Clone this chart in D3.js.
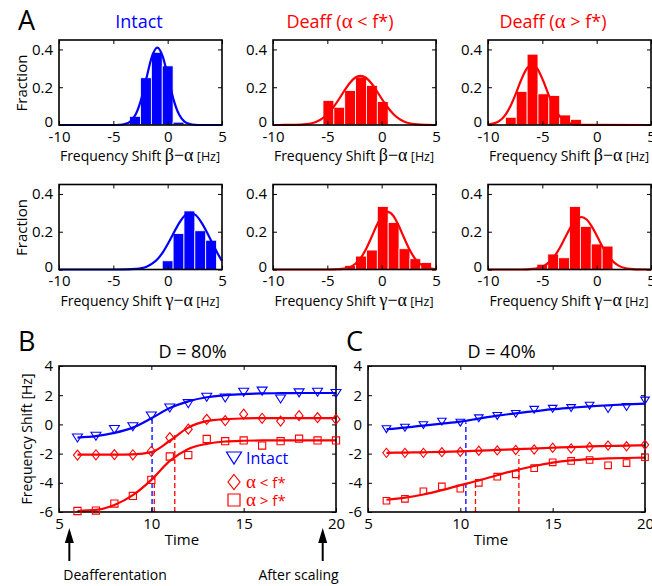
<!DOCTYPE html>
<html>
<head>
<meta charset="utf-8">
<script src="https://cdn.jsdelivr.net/npm/d3@7"></script>
<style>
  body { margin: 0; background: #fff; }
  text { font-family: "Open Sans", sans-serif; }
</style>
</head>
<body>
<div id="chart"></div>
<script>
// ---------- histogram data (panel A) ----------
const histTicksX = [-10, -5, 0, 5];
const histTicksY = [0, 0.2, 0.4];

// row 1: beta - alpha
const intactBetaBins = [-3, -2, -1, 0, 1];
const intactBetaFrac = [0.046, 0.25, 0.385, 0.313, 0.015];
const intactBetaFitX = [-10, -4.95, -4.45, -3.95, -3.45, -2.95, -2.45, -1.95, -1.45, -0.95, -0.45, 0.05, 0.55, 1.05, 1.55, 2.05, 2.55, 3.05, 5];
const intactBetaFitY = [0, 0, 0.001, 0.005, 0.018, 0.055, 0.133, 0.249, 0.362, 0.41, 0.362, 0.249, 0.133, 0.055, 0.018, 0.005, 0.001, 0, 0];

const lowBetaBins = [-4.9, -3.9, -2.9, -1.9, -0.9, 0.1];
const lowBetaFrac = [0.13, 0.094, 0.183, 0.254, 0.21, 0.124];
const lowBetaFitX = [-10, -8.95, -7.95, -6.95, -6.45, -5.95, -5.45, -4.95, -4.45, -3.95, -3.45, -2.95, -2.45, -1.95, -1.45, -0.95, -0.45, 0.05, 0.55, 1.05, 1.55, 2.05, 2.55, 3.05, 4.05, 5];
const lowBetaFitY = [0, 0.0002, 0.0007, 0.0044, 0.0095, 0.019, 0.035, 0.06, 0.094, 0.135, 0.18, 0.221, 0.25, 0.26, 0.25, 0.221, 0.18, 0.135, 0.094, 0.06, 0.035, 0.019, 0.0095, 0.0044, 0.0007, 0.0001];

const highBetaBins = [-7.9, -6.9, -5.9, -4.9, -3.9, -2.9, -1.9];
const highBetaFrac = [0.041, 0.178, 0.375, 0.165, 0.156, 0.053, 0.03];
const highBetaFitX = [-10, -9.45, -8.95, -8.45, -7.95, -7.45, -6.95, -6.45, -5.95, -5.45, -4.95, -4.45, -3.95, -3.45, -2.95, -2.45, -1.95, -0.95, 5];
const highBetaFitY = [0.0027, 0.0085, 0.022, 0.05, 0.098, 0.164, 0.238, 0.297, 0.32, 0.297, 0.238, 0.164, 0.098, 0.05, 0.022, 0.0085, 0.0028, 0.0002, 0];

// row 2: gamma - alpha
const intactGammaBins = [0, 1, 2, 3, 4];
const intactGammaFrac = [0.046, 0.19, 0.31, 0.205, 0.155];
const intactGammaFitX = [-10, -4.9, -3.9, -2.9, -2.4, -1.9, -1.4, -0.9, -0.4, 0.1, 0.6, 1.1, 1.6, 2.1, 2.6, 3.1, 3.6, 4.1, 4.6, 5];
const intactGammaFitY = [0, 0.0001, 0.0004, 0.003, 0.007, 0.016, 0.032, 0.057, 0.095, 0.144, 0.199, 0.25, 0.287, 0.3, 0.287, 0.25, 0.199, 0.14, 0.085, 0.045];

const lowGammaBins = [-2.9, -1.9, -0.9, 0.1, 1.1, 2.1, 3.1, 4.1];
const lowGammaFrac = [0.021, 0.071, 0.103, 0.334, 0.249, 0.11, 0.057, 0.037];
const lowGammaFitX = [-10, -4.95, -3.95, -3.45, -2.95, -2.45, -1.95, -1.45, -0.95, -0.45, 0.05, 0.55, 1.05, 1.55, 2.05, 2.55, 3.05, 3.55, 4.05, 4.55, 5];
const lowGammaFitY = [0, 0.0001, 0.0015, 0.0046, 0.012, 0.029, 0.059, 0.107, 0.169, 0.234, 0.286, 0.305, 0.286, 0.234, 0.169, 0.107, 0.059, 0.029, 0.012, 0.0046, 0.0017];

const highGammaBins = [-5, -4, -3, -2, -1, 0, 1];
const highGammaFrac = [0.028, 0.082, 0.062, 0.334, 0.228, 0.135, 0.124];
const highGammaFitX = [-10, -7.4, -6.4, -5.9, -5.4, -4.9, -4.4, -3.9, -3.4, -2.9, -2.4, -1.9, -1.4, -0.9, -0.4, 0.1, 0.6, 1.1, 1.6, 2.1, 2.6, 3.1, 3.6, 4.6, 5];
const highGammaFitY = [0, 0.0001, 0.0011, 0.0031, 0.0079, 0.018, 0.038, 0.069, 0.114, 0.169, 0.223, 0.263, 0.278, 0.263, 0.223, 0.169, 0.114, 0.069, 0.038, 0.018, 0.0079, 0.0031, 0.0011, 0.0001, 0];

// ---------- time course data (panels B, C) ----------
const timeSteps = [6, 7, 8, 9, 10, 11, 12, 13, 14, 15, 16, 17, 18, 19, 20];
const timeTicksX = [5, 10, 15, 20];
const timeTicksY = [-6, -4, -2, 0, 2, 4];

// B: D = 80%
const intactB = [-0.93, -0.81, -0.35, -0.16, 0.58, 1.12, 1.42, 1.86, 1.81, 2.2, 2.28, 1.74, 2.16, 2.2, 2.12];
const lowB = [-2.1, -2.08, -2.07, -2.08, -1.84, -0.9, -0.33, 0.35, 0.26, 0.7, 0.42, 0.23, 0.6, 0.47, 0.35];
const highB = [-5.93, -5.9, -5.42, -4.9, -3.8, -2.2, -2.1, -1.0, -1.15, -1.1, -1.45, -1.15, -0.98, -1.1, -1.1];
const intactBFit = [-0.9, -0.8, -0.58, -0.22, 0.42, 1.12, 1.58, 1.86, 2.0, 2.08, 2.12, 2.14, 2.15, 2.15, 2.15];
const lowBFit = [-2.07, -2.07, -2.07, -2.05, -1.9, -1.12, -0.22, 0.22, 0.36, 0.41, 0.43, 0.43, 0.43, 0.43, 0.43];
const highBFit = [-5.93, -5.86, -5.52, -4.85, -3.8, -2.5, -1.68, -1.33, -1.17, -1.12, -1.1, -1.1, -1.1, -1.1, -1.1];
const dashBTime = [10.04, 10.16, 11.27];
const dashBTop = [0.45, -3.6, -0.7];

// C: D = 40%
const intactC = [-0.33, -0.23, -0.05, 0.19, 0.12, 0.42, 0.58, 0.72, 1.0, 1.07, 1.12, 1.28, 1.05, 1.19, 1.63];
const lowC = [-1.95, -1.95, -1.95, -1.9, -1.88, -1.8, -1.78, -1.75, -1.72, -1.6, -1.65, -1.55, -1.45, -1.5, -1.4];
const highC = [-5.23, -5.1, -4.58, -4.25, -4.4, -4.0, -3.58, -3.42, -3.0, -2.6, -2.5, -2.44, -2.8, -2.65, -2.25];
const intactCFit = [-0.33, -0.22, -0.08, 0.05, 0.19, 0.4, 0.6, 0.76, 0.9, 1.04, 1.14, 1.23, 1.31, 1.37, 1.42];
const lowCFit = [-1.95, -1.93, -1.91, -1.88, -1.85, -1.8, -1.75, -1.7, -1.65, -1.6, -1.55, -1.51, -1.48, -1.45, -1.43];
const highCFit = [-5.16, -5.02, -4.8, -4.5, -4.16, -3.84, -3.48, -3.14, -2.85, -2.62, -2.47, -2.38, -2.33, -2.3, -2.27];
const dashCTime = [10.3, 10.82, 13.17];
const dashCTop = [0.15, -3.88, -2.1];

const arrowTimes = [5.56, 19.28];
const arrowLabels = ["Deafferentation", "After scaling"];

const BLUE = "#0000ff", RED = "#ff0000";

const svg = d3.select("#chart").append("svg")
  .attr("width", 652).attr("height", 586);

// draws inward ticks on all four sides plus the box
function frame(g, x, y, xt, yt) {
  const [x0, x1] = x.range(), [y0, y1] = y.range();
  const fmt = (d) => String(d);
  g.append("g").attr("transform", `translate(0,${y0})`)
    .call(d3.axisBottom(x).tickValues(xt).tickSize(-4).tickPadding(6).tickFormat(fmt))
    .call((a) => a.select(".domain").remove());
  g.append("g").attr("transform", `translate(0,${y1})`)
    .call(d3.axisTop(x).tickValues(xt).tickSize(-4).tickFormat(""))
    .call((a) => a.select(".domain").remove());
  g.append("g").attr("class", "yax").attr("transform", `translate(${x0},0)`)
    .call(d3.axisLeft(y).tickValues(yt).tickSize(-4).tickPadding(6).tickFormat(fmt))
    .call((a) => a.select(".domain").remove());
  g.append("g").attr("transform", `translate(${x1},0)`)
    .call(d3.axisRight(y).tickValues(yt).tickSize(-4).tickFormat(""))
    .call((a) => a.select(".domain").remove());
  g.selectAll(".tick line").attr("stroke", "#000").attr("stroke-width", 1);
  g.selectAll(".tick text").attr("font-family", "Open Sans").attr("font-size", 15).attr("fill", "#000");
  g.append("rect").attr("x", x0).attr("y", y1).attr("width", x1 - x0).attr("height", y0 - y1)
    .attr("fill", "none").attr("stroke", "#000").attr("stroke-width", 1.6);
}

function histPanel(left, top, bins, frac, fitX, fitY, color, sym) {
  const g = svg.append("g");
  const x = d3.scaleLinear().domain([-10, 5]).range([left, left + 163]);
  const y = d3.scaleLinear().domain([0, 0.45]).range([top + 85, top]);
  const bw = x(1) - x(0);
  g.selectAll("rect.bar").data(bins).join("rect").attr("class", "bar")
    .attr("x", (d) => x(d) - bw / 2).attr("width", bw)
    .attr("y", (d, i) => y(frac[i])).attr("height", (d, i) => y(0) - y(frac[i]))
    .attr("fill", color).attr("stroke", "#fff").attr("stroke-width", 0.8);
  const line = d3.line().x((d) => x(d[0])).y((d) => y(d[1])).curve(d3.curveMonotoneX);
  g.append("path").datum(fitX.map((v, i) => [v, fitY[i]])).attr("d", line)
    .attr("fill", "none").attr("stroke", color).attr("stroke-width", 2.2);
  frame(g, x, y, histTicksX, histTicksY);
  // lift the "0" label a little, as in the original
  g.select(".yax").selectAll(".tick text").filter((d) => d === 0).attr("dy", "0.1em");
  // x label
  const t = g.append("text").attr("x", left + 81).attr("y", top + 121).attr("text-anchor", "middle");
  t.append("tspan").attr("font-size", 14).text("Frequency Shift ");
  t.append("tspan").attr("font-size", 18).attr("font-family", "Liberation Serif").text(sym);
  t.append("tspan").attr("font-size", 12.5).text(" [Hz]");
  return g;
}

const colsA = [59, 273, 488];
const rowsA = [40, 184.5];
histPanel(colsA[0], rowsA[0], intactBetaBins, intactBetaFrac, intactBetaFitX, intactBetaFitY, BLUE, "β−α");
histPanel(colsA[1], rowsA[0], lowBetaBins, lowBetaFrac, lowBetaFitX, lowBetaFitY, RED, "β−α");
histPanel(colsA[2], rowsA[0], highBetaBins, highBetaFrac, highBetaFitX, highBetaFitY, RED, "β−α");
histPanel(colsA[0], rowsA[1], intactGammaBins, intactGammaFrac, intactGammaFitX, intactGammaFitY, BLUE, "γ−α");
histPanel(colsA[1], rowsA[1], lowGammaBins, lowGammaFrac, lowGammaFitX, lowGammaFitY, RED, "γ−α");
histPanel(colsA[2], rowsA[1], highGammaBins, highGammaFrac, highGammaFitX, highGammaFitY, RED, "γ−α");

// "Fraction" labels
rowsA.forEach((r) => {
  svg.append("text").attr("transform", `translate(27,${r + 43}) rotate(-90)`)
    .attr("text-anchor", "middle").attr("font-size", 15).text("Fraction");
});

// titles
function title(x, label, color, parts) {
  const t = svg.append("text").attr("x", x).attr("y", 28).attr("text-anchor", "middle")
    .attr("font-size", 18).attr("fill", color);
  if (!parts) { t.text(label); return; }
  t.append("tspan").text(label);
  t.append("tspan").attr("font-family", "Liberation Serif").attr("font-size", 21).text("α");
  t.append("tspan").text(parts);
}
title(139, "Intact", BLUE);
title(340, "Deaff (", RED, " < f*)");
title(553, "Deaff (", RED, " > f*)");

// panel letters
[["A", 18, 30], ["B", 18, 351], ["C", 346, 351]].forEach(([l, x, y]) => {
  svg.append("text").attr("x", x).attr("y", y).attr("font-size", 27).text(l);
});

// ---------- time course panels ----------
function markerPath(kind, s) {
  if (kind === "tri") return `M${-s},${-s * 0.8}L${s},${-s * 0.8}L0,${s * 0.8}Z`;
  if (kind === "dia") return `M0,${-s}L${s * 0.8},0L0,${s}L${-s * 0.8},0Z`;
  return `M${-s},${-s}L${s},${-s}L${s},${s}L${-s},${s}Z`;
}

function timePanel(left, series, dashT, dashTop, heading, sizes) {
  const g = svg.append("g");
  const x = d3.scaleLinear().domain([5, 20]).range([left, left + 277]);
  const y = d3.scaleLinear().domain([-6, 4]).range([512, 366]);
  const line = d3.line().x((d, i) => x(timeSteps[i])).y((d) => y(d)).curve(d3.curveMonotoneX);
  // dashed markers of half rise
  dashT.forEach((t, i) => {
    g.append("line").attr("x1", x(t)).attr("x2", x(t)).attr("y1", y(-6)).attr("y2", y(dashTop[i]))
      .attr("stroke", i === 0 ? BLUE : RED).attr("stroke-width", 1.3).attr("stroke-dasharray", "5,3");
  });
  series.forEach((s) => {
    g.append("path").datum(s.fit).attr("d", line).attr("fill", "none")
      .attr("stroke", s.color).attr("stroke-width", 2.2);
  });
  frame(g, x, y, timeTicksX, timeTicksY);
  series.forEach((s) => {
    g.selectAll(null).data(s.pts).join("path")
      .attr("transform", (d, i) => `translate(${x(timeSteps[i])},${y(d)})`)
      .attr("d", markerPath(s.kind, sizes[s.kind]))
      .attr("fill", "none").attr("stroke", s.color).attr("stroke-width", 1.1);
  });
  g.append("text").attr("x", x(12.5) - 5).attr("y", 358).attr("text-anchor", "middle")
    .attr("font-size", 18).text(heading);
  g.append("text").attr("x", x(12.2) - 10).attr("y", 545).attr("text-anchor", "middle")
    .attr("font-size", 15).text("Time");
  return { g, x, y };
}

const B = timePanel(59, [
  { pts: intactB, fit: intactBFit, color: BLUE, kind: "tri" },
  { pts: lowB, fit: lowBFit, color: RED, kind: "dia" },
  { pts: highB, fit: highBFit, color: RED, kind: "sq" }
], dashBTime, dashBTop, "D = 80%", { tri: 5, dia: 5, sq: 3.6 });

const C = timePanel(368, [
  { pts: intactC, fit: intactCFit, color: BLUE, kind: "tri" },
  { pts: lowC, fit: lowCFit, color: RED, kind: "dia" },
  { pts: highC, fit: highCFit, color: RED, kind: "sq" }
], dashCTime, dashCTop, "D = 40%", { tri: 4.3, dia: 4.6, sq: 3.3 });

// y label for B
svg.append("text").attr("transform", "translate(32,439) rotate(-90)")
  .attr("text-anchor", "middle").attr("font-size", 14).text("Frequency Shift [Hz]");

// legend in B
const legend = [
  { kind: "tri", color: BLUE, label: "Intact", s: 7.5, op: "" },
  { kind: "dia", color: RED, label: "", s: 7.5, op: " < f*" },
  { kind: "sq", color: RED, label: "", s: 6, op: " > f*" }
];
legend.forEach((d, i) => {
  const yy = [458, 482, 500][i];
  svg.append("path").attr("transform", `translate(234,${yy})`).attr("d", markerPath(d.kind, d.s))
    .attr("fill", "none").attr("stroke", d.color).attr("stroke-width", 1.2);
  const t = svg.append("text").attr("x", 246).attr("y", yy + 5.5).attr("font-size", 16).attr("fill", d.color);
  if (d.label) t.text(d.label);
  else {
    t.append("tspan").attr("font-family", "Liberation Serif").attr("font-size", 19).text("α");
    t.append("tspan").attr("font-size", 15).text(d.op);
  }
});

// arrows below B
arrowTimes.forEach((t, i) => {
  const ax = B.x(t);
  svg.append("line").attr("x1", ax).attr("x2", ax).attr("y1", 540).attr("y2", 561)
    .attr("stroke", "#000").attr("stroke-width", 2);
  svg.append("path").attr("d", `M${ax},528L${ax + 4.5},543L${ax - 4.5},543Z`).attr("fill", "#000");
  svg.append("text").attr("x", i === 0 ? ax - 6 : ax + 16).attr("y", 580)
    .attr("text-anchor", i === 0 ? "start" : "end").attr("font-size", 14).text(arrowLabels[i]);
});
</script>
</body>
</html>
